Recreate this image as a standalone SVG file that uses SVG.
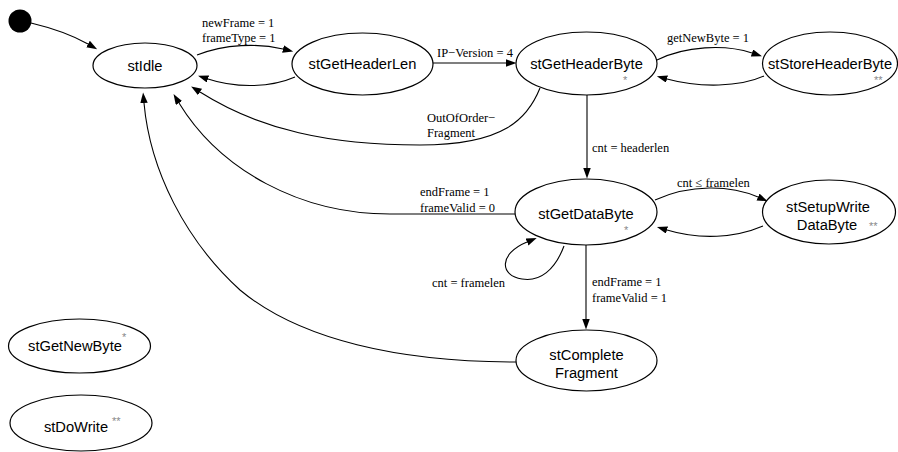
<svg xmlns="http://www.w3.org/2000/svg" width="898" height="452" viewBox="0 0 898 452">
  <defs>
    <marker id="arrow" markerUnits="userSpaceOnUse" markerWidth="11" markerHeight="8" refX="0" refY="3.75" orient="auto">
      <path d="M0,0 L10.5,3.75 L0,7.5 z" fill="#000"/>
    </marker>
    <style>
      .node ellipse { fill: #fff; stroke: #000; stroke-width: 1.2; }
      .name { font-family: "Liberation Sans", Arial, sans-serif; font-size: 14.7px; fill: #000; text-anchor: middle; }
      .star { font-family: "Liberation Sans", Arial, sans-serif; font-size: 11px; fill: #888; }
      .edge { fill: none; stroke: #000; stroke-width: 1.1; marker-end: url(#arrow); }
      .lbl { font-family: "Liberation Serif", "Times New Roman", serif; font-size: 12.5px; fill: #000; }
    </style>
  </defs>
  <rect width="898" height="452" fill="#fff"/>

  <!-- transitions -->
  <g id="edges">
    <path class="edge" d="M31,23 C52,28 72,35 88,44"/>
    <path class="edge" d="M197,55 C225,44 258,43 283,49"/>
    <text class="lbl" x="202" y="27">newFrame = 1</text>
    <text class="lbl" x="202" y="42">frameType = 1</text>
    <path class="edge" d="M295,77 C270,88 235,88 208,79"/>
    <path class="edge" d="M433,63 L506,63"/>
    <text class="lbl" x="437" y="57">IP−Version = 4</text>
    <path class="edge" d="M657,60 C685,46 725,44 752,53"/>
    <text class="lbl" x="667" y="42">getNewByte = 1</text>
    <path class="edge" d="M764,76 C740,87 700,88 667,79"/>
    <path class="edge" d="M540,88 C528,118 505,145 420,145 C330,145 260,130 200,92"/>
    <text class="lbl" x="427" y="122">OutOfOrder−</text>
    <text class="lbl" x="427" y="137">Fragment</text>
    <path class="edge" d="M515,214 L390,214 C300,214 220,170 179,103"/>
    <text class="lbl" x="420" y="196">endFrame = 1</text>
    <text class="lbl" x="420" y="212">frameValid = 0</text>
    <path class="edge" d="M516,362 C400,362 300,340 240,290 C185,240 150,170 144,103"/>
    <path class="edge" d="M587,95 L587,168"/>
    <text class="lbl" x="592" y="152">cnt = headerlen</text>
    <path class="edge" d="M655,200 C690,184 730,185 758,197"/>
    <text class="lbl" x="677" y="187">cnt ≤ framelen</text>
    <path class="edge" d="M763,226 C735,238 700,240 667,230"/>
    <path class="edge" d="M564,246 C555,270 540,282 522,279 C500,276 498,254 527,242"/>
    <text class="lbl" x="432" y="287">cnt = framelen</text>
    <path class="edge" d="M586,245 L586,319"/>
    <text class="lbl" x="592" y="286">endFrame = 1</text>
    <text class="lbl" x="592" y="302">frameValid = 1</text>
  </g>

  <g id="start">
    <circle cx="20" cy="21" r="11.5" fill="#000"/>
  </g>

  <g id="stIdle" class="node">
    <ellipse cx="145" cy="65.5" rx="52" ry="22.5"/>
    <text class="name" x="145" y="70.5">stIdle</text>
  </g>

  <g id="stGetHeaderLen" class="node">
    <ellipse cx="362.5" cy="64" rx="70.5" ry="31"/>
    <text class="name" x="362.5" y="69">stGetHeaderLen</text>
  </g>

  <g id="stGetHeaderByte" class="node">
    <ellipse cx="586.5" cy="63.5" rx="70.5" ry="31.5"/>
    <text class="name" x="586.5" y="68.5">stGetHeaderByte</text>
    <text class="star" x="623" y="84">*</text>
  </g>

  <g id="stStoreHeaderByte" class="node">
    <ellipse cx="830" cy="63.5" rx="67.5" ry="31.5"/>
    <text class="name" x="830" y="68.5">stStoreHeaderByte</text>
    <text class="star" x="874" y="84">**</text>
  </g>

  <g id="stGetDataByte" class="node">
    <ellipse cx="586" cy="212" rx="71" ry="33"/>
    <text class="name" x="586" y="219">stGetDataByte</text>
    <text class="star" x="624" y="234">*</text>
  </g>

  <g id="stSetupWriteDataByte" class="node">
    <ellipse cx="829" cy="212" rx="66.5" ry="32"/>
    <text class="name" x="828" y="212">stSetupWrite</text>
    <text class="name" x="827" y="230">DataByte</text>
    <text class="star" x="869" y="230">**</text>
  </g>

  <g id="stCompleteFragment" class="node">
    <ellipse cx="586.5" cy="360.5" rx="70.5" ry="30.5"/>
    <text class="name" x="586.5" y="360">stComplete</text>
    <text class="name" x="586.5" y="378">Fragment</text>
  </g>

  <g id="stGetNewByte" class="node">
    <ellipse cx="79.5" cy="346" rx="71" ry="27"/>
    <text class="name" x="75" y="351">stGetNewByte</text>
    <text class="star" x="122" y="341">*</text>
  </g>

  <g id="stDoWrite" class="node">
    <ellipse cx="81" cy="423" rx="71" ry="28"/>
    <text class="name" x="76" y="432">stDoWrite</text>
    <text class="star" x="112" y="425">**</text>
  </g>
</svg>
